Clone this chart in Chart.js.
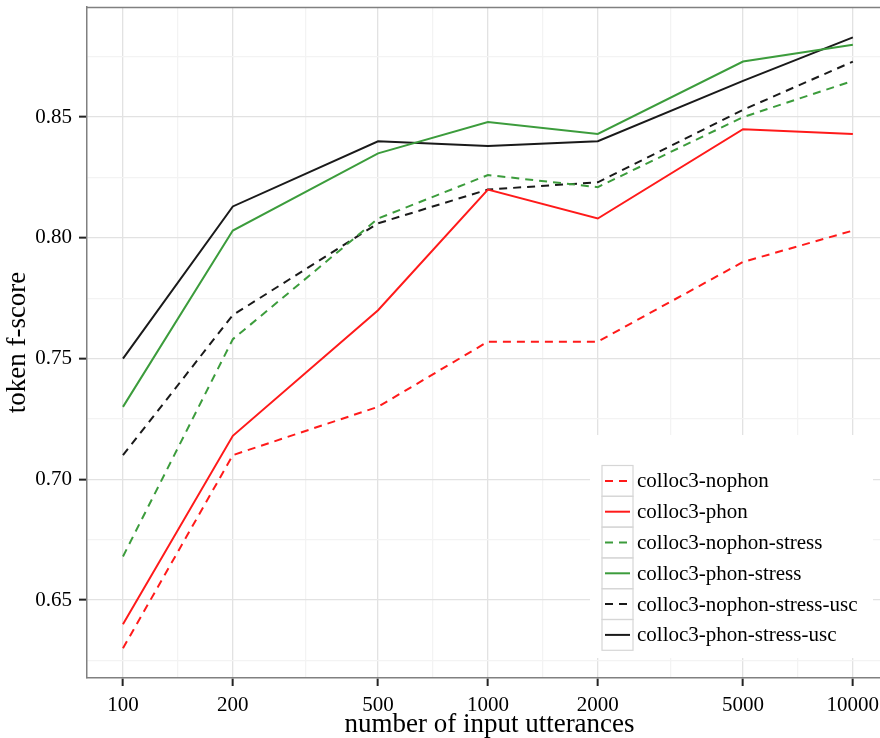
<!DOCTYPE html>
<html>
<head>
<meta charset="utf-8">
<script src="https://cdn.jsdelivr.net/npm/chart.js@4"></script>
<style>
  html, body { margin: 0; padding: 0; background: #fff; overflow: hidden; }
  #wrap { width: 892px; height: 738px; }
</style>
</head>
<body>
<div id="wrap"><canvas id="grafico"></canvas></div>
<script>
// valores
const utterances = [100, 200, 500, 1000, 2000, 5000, 10000];
const nophon = [0.630, 0.710, 0.730, 0.757, 0.757, 0.790, 0.803];
const phon = [0.640, 0.718, 0.770, 0.820, 0.808, 0.845, 0.843];
const nophonStress = [0.668, 0.758, 0.808, 0.826, 0.821, 0.850, 0.865];
const phonStress = [0.730, 0.803, 0.835, 0.848, 0.843, 0.873, 0.880];
const nophonStressUsc = [0.710, 0.768, 0.806, 0.820, 0.823, 0.853, 0.873];
const phonStressUsc = [0.750, 0.813, 0.840, 0.838, 0.840, 0.865, 0.883];

const seriesNames = [
  "colloc3-nophon", "colloc3-phon",
  "colloc3-nophon-stress", "colloc3-phon-stress",
  "colloc3-nophon-stress-usc", "colloc3-phon-stress-usc",
];
const seriesValues = [nophon, phon, nophonStress, phonStress, nophonStressUsc, phonStressUsc];
const seriesColors = ["#ff1a1a", "#ff1a1a", "#3c9c3c", "#3c9c3c", "#1a1a1a", "#1a1a1a"];
const seriesDashed = [true, false, true, false, true, false];

const yMajor = [0.65, 0.70, 0.75, 0.80, 0.85];
const yMinor = [0.625, 0.675, 0.725, 0.775, 0.825, 0.875];
const xMajor = utterances;

const serif = "'Liberation Serif', 'DejaVu Serif', serif";

// grade secundária no meio (em escala log) entre as marcas principais
const xMinor = [];
for (let i = 0; i < xMajor.length - 1; i++) xMinor.push(Math.sqrt(xMajor[i] * xMajor[i + 1]));

const isMajorX = (v) => xMajor.some((m) => Math.abs(m - v) < 1e-6);
const isMajorY = (v) => yMajor.some((m) => Math.abs(m - v) < 1e-6);

// ---------------------------------------------------------
// moldura do painel + legenda estilo ggplot
// ---------------------------------------------------------
const painel = {
  id: "painel",
  afterDatasetsDraw(chart) {
    const { ctx, chartArea: a } = chart;
    ctx.save();
    ctx.strokeStyle = "#808080";
    ctx.lineWidth = 1.5;
    ctx.beginPath();
    ctx.moveTo(a.left, a.top + 0.5);
    ctx.lineTo(a.right, a.top + 0.5);
    ctx.stroke();

    // legenda
    const lx = 590, ly = 435, lw = 283, lh = 223;
    ctx.fillStyle = "#fff";
    ctx.fillRect(lx, ly, lw, lh);
    const kx = 602, kw = 31, rowH = 30.8, top0 = 465.5;
    ctx.font = "21px " + serif;
    ctx.textBaseline = "middle";
    chart.data.datasets.forEach((ds, i) => {
      const y0 = top0 + i * rowH;
      ctx.strokeStyle = "#d6d6d6";
      ctx.lineWidth = 1.2;
      ctx.setLineDash([]);
      ctx.strokeRect(kx, y0, kw, rowH);
      ctx.strokeStyle = ds.borderColor;
      ctx.lineWidth = 2;
      ctx.setLineDash(ds.borderDash || []);
      ctx.beginPath();
      ctx.moveTo(kx + 3, y0 + rowH / 2);
      ctx.lineTo(kx + kw - 3, y0 + rowH / 2);
      ctx.stroke();
      ctx.setLineDash([]);
      ctx.fillStyle = "#000";
      ctx.fillText(ds.label, 637, y0 + rowH / 2 + 1);
    });
    ctx.restore();
  },
};

const datasets = seriesNames.map((nome, i) => ({
  label: nome,
  data: utterances.map((u, j) => ({ x: u, y: seriesValues[i][j] })),
  borderColor: seriesColors[i],
  backgroundColor: seriesColors[i],
  borderWidth: 2,
  borderDash: seriesDashed[i] ? [8, 6] : [],
  pointRadius: 0,
  tension: 0,
  fill: false,
}));

new Chart(document.getElementById("grafico"), {
  type: "line",
  data: { datasets },
  plugins: [painel],
  options: {
    responsive: true,
    maintainAspectRatio: false,
    animation: false,
    layout: { padding: { top: 7, right: 0, left: 0, bottom: 0 } },
    plugins: { legend: { display: false }, tooltip: { enabled: false } },
    scales: {
      x: {
        type: "logarithmic",
        min: 79.7,
        max: 12800,
        afterBuildTicks: (s) => {
          s.ticks = xMajor.concat(xMinor).sort((a, b) => a - b).map((v) => ({ value: v }));
        },
        afterFit: (s) => {
          s.height = 60;
          s.paddingLeft = 0;
          s.paddingRight = 0;
        },
        ticks: {
          autoSkip: false,
          maxRotation: 0,
          padding: 7,
          color: "#000",
          font: { family: serif, size: 21 },
          callback: (v) => (isMajorX(v) ? String(v) : ""),
        },
        grid: {
          color: (c) => (c.tick && isMajorX(c.tick.value) ? "#e2e2e2" : "#f3f3f3"),
          lineWidth: 1.3,
          tickLength: 8,
          tickColor: (c) => (c.tick && isMajorX(c.tick.value) ? "#222" : "rgba(0,0,0,0)"),
          tickWidth: 2,
        },
        border: { color: "#808080", width: 1.5 },
        title: {
          display: true,
          text: "number of input utterances",
          color: "#000",
          font: { family: serif, size: 27 },
          padding: { top: 0, bottom: -3 },
        },
      },
      y: {
        min: 0.6177,
        max: 0.8956,
        afterBuildTicks: (s) => {
          s.ticks = yMajor.concat(yMinor).sort((a, b) => a - b).map((v) => ({ value: v }));
        },
        afterFit: (s) => {
          s.width = 87;
          s.paddingTop = 0;
          s.paddingBottom = 0;
        },
        ticks: {
          autoSkip: false,
          padding: 7,
          color: "#000",
          font: { family: serif, size: 21 },
          callback: (v) => (isMajorY(v) ? v.toFixed(2) : ""),
        },
        grid: {
          color: (c) => (c.tick && isMajorY(c.tick.value) ? "#e2e2e2" : "#f3f3f3"),
          lineWidth: 1.3,
          tickLength: 8,
          tickColor: (c) => (c.tick && isMajorY(c.tick.value) ? "#222" : "rgba(0,0,0,0)"),
          tickWidth: 2,
        },
        border: { color: "#808080", width: 1.5 },
        title: {
          display: true,
          text: "token f-score",
          color: "#000",
          font: { family: serif, size: 27 },
          padding: { top: 2, bottom: 0 },
        },
      },
    },
  },
});
</script>
</body>
</html>
